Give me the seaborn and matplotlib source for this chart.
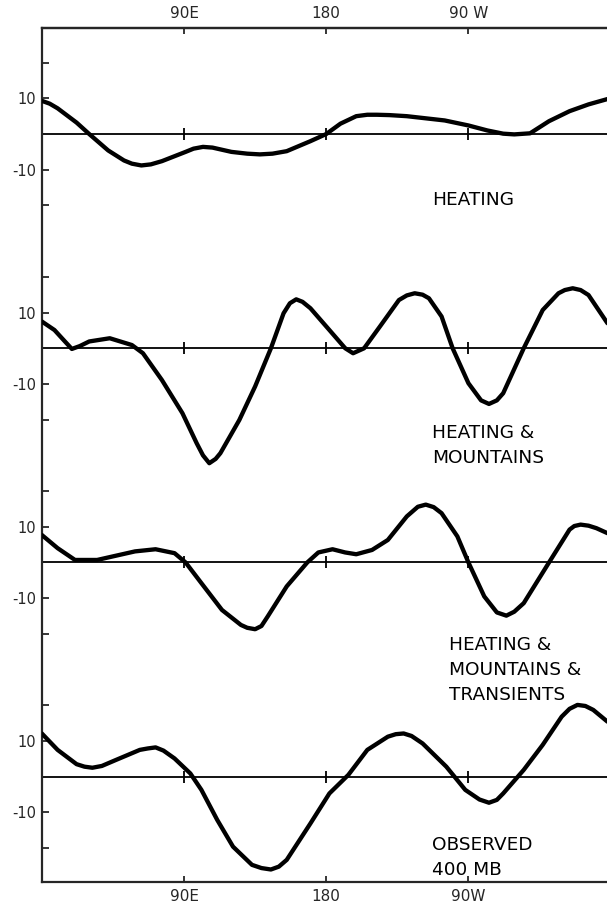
import numpy as np
import pandas as pd
import matplotlib
matplotlib.use("Agg")
import matplotlib.pyplot as plt
import seaborn as sns

# ---------------- data (longitude in degrees east, 0..360; amplitude) ----------------
lon_heat = [0, 5, 10, 22, 30, 42, 52, 57, 63, 69, 76, 91, 96, 102, 108, 114, 120, 130,
            138, 146, 155, 170, 180, 189, 199, 206, 212, 220, 231, 255, 270, 282, 292,
            299, 309, 321, 334, 346, 358]
val_heat = [9.3, 8.5, 7.2, 3.2, 0.0, -4.6, -7.4, -8.3, -8.8, -8.5, -7.6, -5.0, -4.1,
            -3.6, -3.8, -4.4, -5.0, -5.5, -5.7, -5.5, -4.8, -2.0, 0.0, 2.9, 5.0, 5.4, 5.4,
            5.3, 5.0, 3.8, 2.4, 1.0, 0.1, -0.1, 0.2, 3.6, 6.4, 8.3, 9.8]

lon_mtn = [0, 8, 14, 19, 24, 30, 43, 57, 64, 76, 89, 98, 102, 106, 110, 113, 125, 135,
           145, 153, 157, 161, 165, 170, 182, 192, 197, 204, 214, 226, 231, 236, 241,
           245, 253, 260, 270, 278, 283, 288, 292, 305, 317, 327, 331, 336, 341, 346, 358]
val_mtn = [7.5, 5.1, 2.2, -0.2, 0.6, 1.9, 2.8, 0.9, -1.4, -8.9, -18.2, -26.6, -30.0,
           -32.2, -31.0, -29.4, -20.1, -10.7, 0.0, 9.8, 12.6, 13.7, 13.0, 11.2, 5.1, 0.0,
           -1.4, 0.0, 6.1, 13.5, 14.8, 15.4, 15.0, 14.0, 8.9, 0.0, -9.8, -14.6, -15.6,
           -14.6, -12.6, 0.0, 10.7, 15.4, 16.3, 16.8, 16.3, 14.9, 7.0]

lon_trn = [0, 10, 21, 35, 47, 59, 72, 84, 91, 101, 114, 126, 130, 135, 139, 143, 155,
           168, 175, 184, 192, 199, 209, 219, 231, 238, 243, 248, 253, 263, 270, 280,
           288, 294, 299, 305, 321, 334, 337, 341, 346, 351, 358]
val_trn = [7.7, 4.0, 0.7, 0.7, 1.9, 3.1, 3.7, 2.6, 0.0, -5.8, -13.3, -17.5, -18.3, -18.7,
           -17.8, -15.1, -6.7, 0.0, 2.8, 3.7, 2.8, 2.3, 3.5, 6.3, 12.9, 15.6, 16.2, 15.5,
           13.8, 7.3, 0.0, -9.5, -14.0, -14.9, -13.8, -11.4, 0.0, 9.2, 10.2, 10.6, 10.3,
           9.6, 8.2]

lon_obs = [0, 10, 22, 27, 32, 38, 47, 62, 67, 72, 77, 84, 94, 101, 111, 121, 133, 139,
           145, 150, 155, 170, 182, 194, 206, 219, 224, 229, 234, 241, 256, 268, 277,
           283, 288, 292, 305, 317, 329, 334, 339, 344, 349, 358]
val_obs = [12.1, 7.5, 3.5, 2.8, 2.5, 3.0, 4.7, 7.5, 7.9, 8.2, 7.3, 5.1, 0.9, -3.7, -12.1,
           -19.6, -24.7, -25.6, -26.0, -25.2, -23.3, -13.1, -4.7, 0.5, 7.5, 11.2, 11.9,
           12.1, 11.4, 9.3, 2.8, -3.7, -6.4, -7.3, -6.5, -4.7, 1.9, 8.9, 16.8, 19.0, 20.1,
           19.8, 18.7, 15.4]

panel_labels = [["HEATING"],
                ["HEATING &", "MOUNTAINS"],
                ["HEATING &", "MOUNTAINS &", "TRANSIENTS"],
                ["OBSERVED", "400 MB"]]
lon_ticks = [90, 180, 270]
lon_ticklabels_top = ["90E", "180", "90 W"]
lon_ticklabels_bottom = ["90E", "180", "90W"]
amp_ticks = [-20, -10, 10, 20]
amp_ticklabels = ["", "-10", "10", ""]

# ---------------- layout ----------------
offsets = [180, 120, 60, 0]          # vertical stacking of the four panels
series = [(lon_heat, val_heat), (lon_mtn, val_mtn), (lon_trn, val_trn), (lon_obs, val_obs)]
label_pos = [(247, 160.1), (247, 94.9), (258, 35.5), (247, -20.5)]
line_step = 7.0

rows = []
for k, ((lo, va), off) in enumerate(zip(series, offsets)):
    for x, v in zip(lo, va):
        rows.append({"lon": x, "y": v + off, "panel": k})
df = pd.DataFrame(rows)

sns.set_style("ticks")
plt.rcParams["font.family"] = ["DejaVu Sans"]

fig = plt.figure(figsize=(6.07, 9.06), dpi=100)
ax = fig.add_axes([0.0689, 0.0265, 0.9311, 0.9426])

for off in offsets:
    ax.axhline(off, color="black", lw=1.3, zorder=1)
    ax.plot(lon_ticks, [off] * len(lon_ticks), ls="none", marker="|", ms=8,
            mew=1.3, color="black", zorder=1)

sns.lineplot(data=df, x="lon", y="y", units="panel", estimator=None, sort=False,
             color="black", lw=3.1, ax=ax, zorder=3,
             solid_joinstyle="round", solid_capstyle="round")

ax.set_xlim(0, 357.7)
ax.set_ylim(-29.5, 209.7)

yt, ytl = [], []
for off in offsets:
    for t, l in zip(amp_ticks, amp_ticklabels):
        yt.append(off + t)
        ytl.append(l)
ax.set_yticks(yt)
ax.set_yticklabels(ytl, fontsize=10.5)
ax.tick_params(axis="y", direction="in", length=5, width=1.3, pad=4, left=True)

ax.set_xticks(lon_ticks)
ax.set_xticklabels(lon_ticklabels_bottom, fontsize=11)
ax.tick_params(axis="x", direction="in", length=4, width=1.3, pad=5)

sec = ax.secondary_xaxis("top")
sec.set_xticks(lon_ticks)
sec.set_xticklabels(lon_ticklabels_top, fontsize=11)
sec.tick_params(axis="x", direction="in", length=4.5, width=1.3, pad=5)
sec.spines["top"].set_linewidth(1.6)

ax.set_xlabel("")
ax.set_ylabel("")
for s in ["left", "bottom", "top"]:
    ax.spines[s].set_visible(True)
    ax.spines[s].set_linewidth(1.6)
ax.spines["right"].set_visible(False)

for lines, (lx, ly) in zip(panel_labels, label_pos):
    for i, txt in enumerate(lines):
        ax.text(lx, ly - i * line_step, txt, fontsize=13.3, ha="left", va="baseline",
                color="black")

fig.savefig("out.png", dpi=100)
